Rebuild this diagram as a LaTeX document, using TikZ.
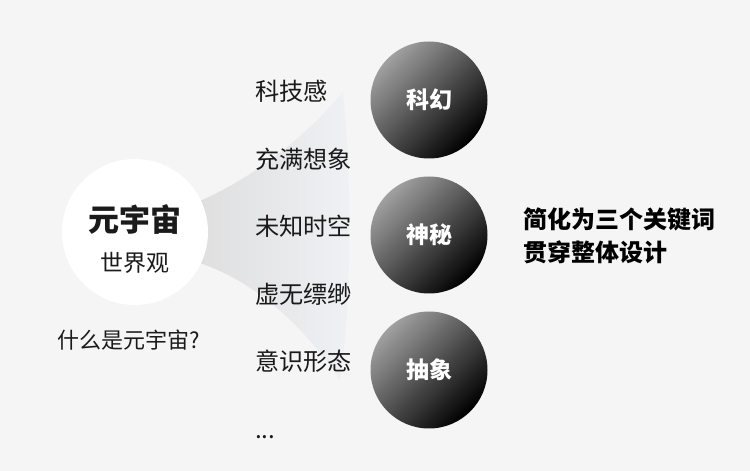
\documentclass[tikz,border=0pt]{standalone}
\usepackage{fontspec}
\setmainfont{Noto Sans CJK SC}
\usepackage{tikz}
\usetikzlibrary{shapes,positioning}
\definecolor{bggray}{HTML}{F5F5F5}
\definecolor{fanleft}{HTML}{D9D9D9}
\definecolor{fanright}{HTML}{F0F1F4}
\definecolor{balllight}{HTML}{A0A0A0}
\definecolor{inkdark}{HTML}{1A1A1A}
\tikzset{
  keyword/.style={circle,minimum size=117pt,inner sep=0pt,shade,top color=balllight,bottom color=black,shading angle=45,text=white,font=\bfseries\fontsize{23}{26}\selectfont},
  trait/.style={anchor=base west,inner sep=0pt,text=inkdark,font=\fontsize{24.2}{27}\selectfont}
}
\begin{document}
\begin{tikzpicture}[x=1pt,y=1pt]
\useasboundingbox (0,0) rectangle (750,471);
\fill[bggray] (0,0) rectangle (750,471);

% Fan behind the centre circle
\shade[left color=fanleft,right color=fanright]
  (150,239) -- (200,270) .. controls (270,301) and (320,351) .. (343,379)
  .. controls (352,291) and (352,171) .. (340,91)
  .. controls (300,151) and (250,191) .. (200,208) -- cycle;

% Centre circle
\node[circle,fill=white,minimum size=146pt,inner sep=0pt] (meta) at (135,239) {};
\node[text=inkdark,font=\bfseries\fontsize{31}{34}\selectfont] (metatitle) at (135,251) {元宇宙};
\node[text=inkdark,font=\fontsize{23}{26}\selectfont] (metasub) at (135,208) {世界观};
\node[text=inkdark,font=\fontsize{22}{26}\selectfont] (question) at (129,131) {什么是元宇宙?};

% Traits
\node[trait] (t1) at (255,370) {科技感};
\node[trait] (t2) at (255,302) {充满想象};
\node[trait] (t3) at (255,235) {未知时空};
\node[trait] (t4) at (255,167) {虚无缥缈};
\node[trait] (t5) at (255,100) {意识形态};
\node[trait] (t6) at (255,32.5) {...};

% Keywords
\node[keyword] (kehuan) at (429,371) {科幻};
\node[keyword] (shenmi) at (429,236) {神秘};
\node[keyword] (chouxiang) at (429,101) {抽象};

\node[anchor=west,align=left,inner sep=0pt,text=black,font=\bfseries\fontsize{24}{33}\selectfont] (summary) at (523,235) {简化为三个关键词\\贯穿整体设计};
\end{tikzpicture}
\end{document}
